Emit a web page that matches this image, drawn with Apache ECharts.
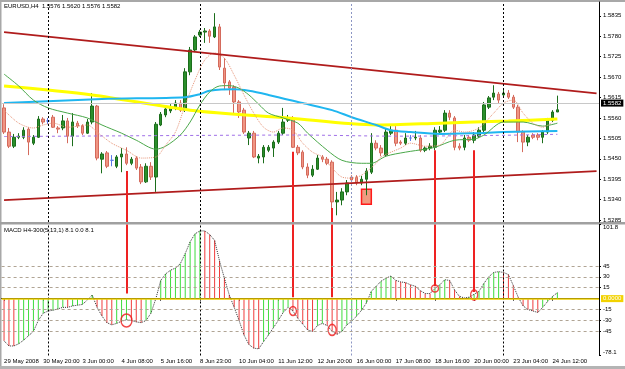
<!DOCTYPE html>
<html>
<head>
<meta charset="utf-8">
<title>EURUSD H4</title>
<script src="https://cdn.jsdelivr.net/npm/echarts@6/dist/echarts.min.js"></script>
<style>
    html, body { margin: 0; padding: 0; background: #fff; }
    #main { width: 625px; height: 369px; }
</style>
</head>
<body>
<div id="main"></div>
<script>
    // bottom time labels, one every 8 bars
    const timeLabels = ['29 May 2008', '30 May 20:00', '3 Jun 00:00', '4 Jun 08:00', '5 Jun 16:00',
        '8 Jun 23:00', '10 Jun 04:00', '11 Jun 12:00', '12 Jun 20:00', '16 Jun 00:00',
        '17 Jun 08:00', '18 Jun 16:00', '20 Jun 00:00', '23 Jun 04:00', '24 Jun 12:00'];
    const slotCount = 122; // includes the empty shift on the right

    const open = [1.5587,1.5522,1.5484,1.5508,1.5508,1.5530,1.5492,1.5508,1.5557,1.5552,
        1.5562,1.5533,1.5533,1.5552,1.5511,1.5546,1.5538,1.5519,1.5549,1.5592,
        1.5449,1.5466,1.5446,1.5430,1.5455,1.5463,1.5438,1.5452,1.5428,1.5388,
        1.5430,1.5401,1.5541,1.5568,1.5579,1.5587,1.5600,1.5581,1.5684,1.5743,
        1.5783,1.5791,1.5794,1.5778,1.5805,1.5694,1.5657,1.5643,1.5603,1.5581,
        1.5506,1.5519,1.5452,1.5455,1.5473,1.5479,1.5495,1.5519,1.5554,1.5557,
        1.5481,1.5468,1.5428,1.5406,1.5422,1.5455,1.5449,1.5441,1.5334,1.5339,
        1.5361,1.5401,1.5401,1.5385,1.5395,1.5414,1.5492,1.5479,1.5460,1.5519,
        1.5527,1.5495,1.5492,1.5506,1.5506,1.5506,1.5473,1.5479,1.5481,1.5522,
        1.5527,1.5573,1.5560,1.5484,1.5481,1.5508,1.5500,1.5511,1.5527,1.5589,
        1.5616,1.5624,1.5622,1.5627,1.5616,1.5589,1.5522,1.5495,1.5514,1.5514,
        1.5508,1.5522,1.5554,1.5576];
    const close = [1.5522,1.5484,1.5508,1.5511,1.5527,1.5495,1.5508,1.5557,1.5549,1.5552,
        1.5535,1.5530,1.5552,1.5511,1.5549,1.5538,1.5519,1.5549,1.5592,1.5452,
        1.5463,1.5430,1.5446,1.5455,1.5463,1.5438,1.5449,1.5425,1.5388,1.5430,
        1.5401,1.5543,1.5570,1.5584,1.5587,1.5600,1.5581,1.5684,1.5743,1.5778,
        1.5791,1.5794,1.5780,1.5805,1.5697,1.5654,1.5640,1.5603,1.5576,1.5522,
        1.5519,1.5455,1.5457,1.5481,1.5481,1.5495,1.5519,1.5549,1.5560,1.5481,
        1.5466,1.5428,1.5406,1.5422,1.5452,1.5449,1.5438,1.5334,1.5339,1.5361,
        1.5385,1.5393,1.5385,1.5395,1.5417,1.5492,1.5479,1.5466,1.5522,1.5527,
        1.5492,1.5492,1.5506,1.5506,1.5508,1.5473,1.5479,1.5484,1.5527,1.5527,
        1.5573,1.5562,1.5481,1.5479,1.5506,1.5500,1.5514,1.5527,1.5595,1.5614,
        1.5627,1.5608,1.5627,1.5616,1.5589,1.5522,1.5495,1.5508,1.5508,1.5508,
        1.5522,1.5554,1.5576,1.5582];
    const high = [1.5597,1.5533,1.5517,1.5519,1.5535,1.5535,1.5514,1.5565,1.5562,1.5560,
        1.5568,1.5538,1.5568,1.5560,1.5573,1.5552,1.5543,1.5557,1.5627,1.5595,
        1.5468,1.5471,1.5460,1.5460,1.5479,1.5481,1.5455,1.5457,1.5436,1.5438,
        1.5441,1.5549,1.5576,1.5589,1.5597,1.5608,1.5608,1.5694,1.5751,1.5783,
        1.5797,1.5802,1.5799,1.5842,1.5813,1.5721,1.5662,1.5648,1.5608,1.5587,
        1.5525,1.5525,1.5463,1.5487,1.5487,1.5500,1.5525,1.5587,1.5568,1.5565,
        1.5487,1.5473,1.5438,1.5433,1.5460,1.5460,1.5455,1.5446,1.5361,1.5371,
        1.5393,1.5406,1.5406,1.5404,1.5425,1.5519,1.5500,1.5487,1.5533,1.5543,
        1.5538,1.5500,1.5519,1.5514,1.5525,1.5514,1.5484,1.5492,1.5535,1.5538,
        1.5581,1.5581,1.5565,1.5492,1.5514,1.5514,1.5522,1.5535,1.5603,1.5619,
        1.5648,1.5630,1.5635,1.5635,1.5622,1.5595,1.5527,1.5514,1.5519,1.5519,
        1.5527,1.5560,1.5581,1.5620];
    const low = [1.5517,1.5479,1.5479,1.5503,1.5503,1.5460,1.5487,1.5506,1.5543,1.5543,
        1.5533,1.5519,1.5527,1.5492,1.5484,1.5533,1.5514,1.5517,1.5543,1.5446,
        1.5411,1.5425,1.5430,1.5425,1.5414,1.5433,1.5433,1.5420,1.5382,1.5385,
        1.5393,1.5361,1.5538,1.5562,1.5573,1.5581,1.5576,1.5576,1.5675,1.5737,
        1.5778,1.5762,1.5762,1.5775,1.5689,1.5635,1.5622,1.5568,1.5560,1.5517,
        1.5487,1.5452,1.5438,1.5438,1.5468,1.5455,1.5490,1.5514,1.5549,1.5479,
        1.5460,1.5422,1.5398,1.5401,1.5420,1.5441,1.5433,1.5312,1.5298,1.5325,
        1.5352,1.5388,1.5379,1.5379,1.5352,1.5409,1.5473,1.5457,1.5455,1.5514,
        1.5484,1.5487,1.5487,1.5498,1.5500,1.5468,1.5468,1.5473,1.5473,1.5519,
        1.5522,1.5554,1.5473,1.5473,1.5473,1.5495,1.5492,1.5506,1.5522,1.5584,
        1.5608,1.5600,1.5616,1.5611,1.5584,1.5495,1.5468,1.5484,1.5503,1.5500,
        1.5492,1.5517,1.5549,1.5576];

    // moving averages, read at [bar index, price]
    const maYellow = [[0,1.5646],[18,1.5622],[38,1.5581],[58,1.5560],[76,1.5541],[89,1.5546],[103,1.5552],[113,1.5557]];
    const maCyan = [[0,1.5600],[20,1.5611],[37,1.5616],[40,1.5624],[42,1.5633],[47,1.5637],[50,1.5633],[54,1.5622],
        [61,1.5600],[67,1.5581],[71,1.5562],[76,1.5541],[79,1.5527],[83,1.5522],[89,1.5517],[96,1.5519],[102,1.5522],[113,1.5525]];
    const maGreen = [[0,1.5678],[3,1.5646],[6,1.5608],[9,1.5587],[13,1.5573],[17,1.5560],[20,1.5541],[24,1.5519],[27,1.5500],
        [31,1.5476],[33,1.5484],[36,1.5514],[38,1.5549],[40,1.5595],[42,1.5630],[44,1.5646],[46,1.5647],[48,1.5640],
        [50,1.5622],[52,1.5597],[54,1.5573],[57,1.5560],[60,1.5546],[62,1.5519],[66,1.5473],[69,1.5446],[73,1.5438],
        [75,1.5438],[78,1.5457],[82,1.5468],[86,1.5476],[88,1.5481],[92,1.5500],[96,1.5503],[98,1.5514],[102,1.5549],
        [106,1.5549],[110,1.5538],[113,1.5546]];
    const maSalmon = [[0,1.5581],[3,1.5546],[6,1.5533],[8,1.5541],[10,1.5546],[13,1.5535],[17,1.5541],[19,1.5522],
        [22,1.5492],[25,1.5473],[28,1.5452],[31,1.5455],[33,1.5487],[35,1.5522],[37,1.5595],[39,1.5662],[41,1.5716],
        [43,1.5735],[45,1.5721],[47,1.5675],[49,1.5622],[51,1.5573],[53,1.5535],[55,1.5522],[57,1.5533],[59,1.5527],
        [61,1.5492],[63,1.5468],[65,1.5455],[67,1.5425],[69,1.5401],[71,1.5398],[73,1.5406],[76,1.5438],[77,1.5455],
        [81,1.5479],[83,1.5492],[86,1.5484],[89,1.5487],[92,1.5527],[94,1.5522],[97,1.5533],[100,1.5573],[102,1.5600],
        [104,1.5608],[106,1.5573],[108,1.5546],[110,1.5535],[112,1.5549]];
    const maPurple = [[0,1.5510],[40,1.5513],[60,1.5514],[80,1.5511],[100,1.5513],[113,1.5516]];
    const trendUpper = [[0,1.5791],[121,1.5626]];
    const trendLower = [[0,1.5339],[121,1.5417]];

    const priceTicks = [1.5835,1.5780,1.5725,1.5670,1.5615,1.5560,1.5505,1.5450,1.5395,1.5340,1.5285];

    const macd = [-58,-65,-65,-62,-57,-51,-45,-30,-20,-17,
        -16,-14,-12,-12,-10,-9,-8,-2,5,-12,
        -24,-33,-36,-34,-31,-29,-30,-32,-33,-30,
        -20,0,25,34,39,42,48,62,78,89,
        93,93,88,80,52,28,5,-12,-30,-50,
        -63,-68,-69,-59,-50,-40,-30,-19,-12,-17,
        -27,-35,-43,-45,-37,-34,-37,-45,-49,-45,
        -36,-31,-24,-16,-6,10,17,24,28,31,
        25,23,22,19,17,11,7,7,14,19,
        26,25,12,3,1,2,6,10,21,30,
        36,37,36,33,18,2,-10,-15,-17,-19,
        -12,-4,3,8.1];
    const macdLevels = [45, 30, 15, -15, -30, -45];
    const macdTicks = [101.8, 45, 30, 15, -15, -30, -45, -78.1];

    // divergence marks: bar, price where the line starts, MACD value where it stops
    const divBars = [25, 59, 67, 88, 96];
    const divPriceTop = [1.5417, 1.5469, 1.5318, 1.5473, 1.5473];
    const divMacdEnd = [7, 2, 2, 17, 9];
    const circleValues = [-30, -17, -43, 14, 5];
    const circleSizes = [[11, 13], [7, 9], [8, 11], [7, 7], [7, 10]];

    const separators = [9, 40, 71, 102];
    const boxBars = [73, 75];
    const boxPrices = [1.5368, 1.5328];

    const FONT = 'Liberation Sans';
    const last = close.length - 1;

    const categories = [];
    for (let i = 0; i < slotCount; i++) categories.push(String(i));
    const labelInterval = function (idx) { return idx % 8 === 0 && idx / 8 < timeLabels.length; };

    const candleData = open.map(function (o, i) {
        const item = { value: [o, close[i], low[i], high[i]] };
        if (o === close[i]) item.itemStyle = { color: '#5a78e6', borderColor: '#5a78e6', borderColor0: '#5a78e6' };
        return item;
    });

    function sepLines() {
        return separators.map(function (s, k) {
            return {
                xAxis: s,
                lineStyle: k === 2 ? { color: '#8c96c4', type: [2, 2], width: 1 } : { color: '#000', type: [2, 2], width: 1 }
            };
        });
    }
    const redLine = { color: '#ee2222', width: 2, type: 'solid' };

    const priceMarks = sepLines();
    const macdMarks = sepLines();
    divBars.forEach(function (b, k) {
        priceMarks.push([{ coord: [b, divPriceTop[k]], lineStyle: redLine }, { coord: [b, 1.5280] }]);
        macdMarks.push([{ coord: [b, 101.8], lineStyle: redLine }, { coord: [b, divMacdEnd[k]] }]);
    });
    priceMarks.push({
        yAxis: close[last],
        lineStyle: { color: '#c8c8c8', type: 'solid', width: 1 },
        label: { show: true, position: 'end', distance: 2, formatter: close[last].toFixed(4),
            backgroundColor: '#000', color: '#fff', padding: [1, 2, 0, 2], fontSize: 6, fontFamily: FONT }
    });
    macdLevels.forEach(function (v) {
        macdMarks.push({ yAxis: v, lineStyle: { color: '#b0a494', type: [3, 3], width: 1 } });
    });
    macdMarks.push({
        yAxis: 0,
        lineStyle: { color: '#f2d200', type: 'solid', width: 1.5 },
        label: { show: true, position: 'end', distance: 2, formatter: '0.0000',
            backgroundColor: '#f2d200', color: '#fff', padding: [1, 2, 0, 2], fontSize: 6, fontFamily: FONT }
    });

    function maLine(name, data, color, width, type) {
        return {
            name: name, type: 'line', xAxisIndex: 0, yAxisIndex: 0, data: data,
            symbol: 'none', smooth: 0.3, silent: true, z: 3,
            lineStyle: { color: color, width: width, type: type || 'solid' }
        };
    }

    const option = {
        animation: false,
        backgroundColor: '#fff',
        title: [{
            text: 'EURUSD,H4  ' + [open[last], high[last], low[last], close[last]].map(function (v) { return v.toFixed(4); }).join(' '),
            left: 4, top: 3, padding: 0,
            textStyle: { fontSize: 6, fontWeight: 'normal', color: '#000', fontFamily: FONT }
        }, {
            text: 'MACD H4-300(5,13,1) 8.1 0.0 8.1',
            left: 4, top: 227, padding: 0,
            textStyle: { fontSize: 6, fontWeight: 'normal', color: '#000', fontFamily: FONT }
        }],
        grid: [
            { left: 1.6, right: 26, top: 2, height: 220 },
            { left: 1.6, right: 26, top: 224.5, height: 131 }
        ],
        xAxis: [{
            type: 'category', gridIndex: 0, data: categories, boundaryGap: true, show: false
        }, {
            type: 'category', gridIndex: 1, data: categories, boundaryGap: true,
            axisLine: { lineStyle: { color: '#000', width: 1 } },
            axisTick: { show: true, alignWithLabel: true, interval: labelInterval, length: 2, lineStyle: { color: '#000' } },
            axisLabel: {
                interval: labelInterval, align: 'left', margin: 3,
                fontSize: 6, color: '#000', fontFamily: FONT,
                formatter: function (v, idx) { return timeLabels[idx / 8] || ''; }
            },
            splitLine: { show: false }
        }],
        yAxis: [{
            type: 'value', gridIndex: 0, position: 'right', min: 1.5280, max: 1.5872,
            splitLine: { show: false },
            axisLine: { show: true, lineStyle: { color: '#000' } },
            axisTick: { show: true, customValues: priceTicks, length: 2, lineStyle: { color: '#000' } },
            axisLabel: {
                customValues: priceTicks, margin: 4, fontSize: 6, color: '#000', fontFamily: FONT,
                formatter: function (v) { return v.toFixed(4); }
            }
        }, {
            type: 'value', gridIndex: 1, position: 'right', min: -78.1, max: 101.8,
            splitLine: { show: false },
            axisLine: { show: true, lineStyle: { color: '#000' } },
            axisTick: { show: true, customValues: macdTicks, length: 2, lineStyle: { color: '#000' } },
            axisLabel: {
                customValues: macdTicks, margin: 4, fontSize: 6, color: '#000', fontFamily: FONT,
                formatter: function (v) {
                    if (v === 101.8) return '{t|101.8}';
                    if (v === -78.1) return '{b|-78.1}';
                    return String(v);
                },
                rich: {
                    t: { fontSize: 6, fontFamily: FONT, color: '#000', padding: [6, 0, 0, 0] },
                    b: { fontSize: 6, fontFamily: FONT, color: '#000', padding: [0, 0, 7, 0] }
                }
            }
        }],
        series: [{
            name: 'EURUSD', type: 'candlestick', xAxisIndex: 0, yAxisIndex: 0,
            data: candleData, barWidth: 3, z: 2,
            itemStyle: { color: '#2b8f2b', color0: '#f09583', borderColor: '#1c6e1c', borderColor0: '#d46a5c', borderWidth: 1 },
            markLine: { silent: true, symbol: ['none', 'none'], label: { show: false }, animation: false, data: priceMarks },
            markArea: {
                silent: true,
                itemStyle: { color: '#f09a80', borderColor: '#ff1a1a', borderWidth: 1.5 },
                data: [[{ coord: [boxBars[0], boxPrices[0]] }, { coord: [boxBars[1], boxPrices[1]] }]]
            }
        },
            maLine('MA yellow', maYellow, '#ffff00', 3),
            maLine('MA cyan', maCyan, '#1fb6f0', 2),
            maLine('MA green', maGreen, '#4aa84a', 1),
            maLine('MA salmon', maSalmon, '#e8967a', 1, 'dotted'),
            maLine('MA purple', maPurple, '#a070e8', 1, [3, 3]),
            maLine('trend upper', trendUpper, '#b01c1c', 1.8),
            maLine('trend lower', trendLower, '#b01c1c', 1.8),
        {
            name: 'MACD', type: 'bar', xAxisIndex: 1, yAxisIndex: 1, data: macd, barWidth: 1,
            itemStyle: {
                color: function (p) {
                    const i = p.dataIndex;
                    return (i > 0 && macd[i] > macd[i - 1]) ? '#3ddc3d' : '#f03c3c';
                }
            },
            markLine: { silent: true, symbol: ['none', 'none'], label: { show: false }, animation: false, data: macdMarks }
        }, {
            name: 'MACD line', type: 'line', xAxisIndex: 1, yAxisIndex: 1, data: macd,
            symbol: 'none', silent: true, z: 3,
            lineStyle: { color: '#333', width: 1, type: 'dotted' }
        }, {
            name: 'marks', type: 'scatter', xAxisIndex: 1, yAxisIndex: 1, z: 4, silent: true,
            data: divBars.map(function (b, k) { return [b, circleValues[k]]; }),
            symbol: 'path://M1,0A1,1,0,1,1,-1,0A1,1,0,1,1,1,0Z',
            symbolSize: function (v, p) { return circleSizes[p.dataIndex]; },
            itemStyle: { color: 'rgba(0,0,0,0)', borderColor: '#ee1a1a', borderWidth: 1.5 }
        }],
        graphic: [
            { type: 'rect', shape: { x: 0, y: 0, width: 625, height: 2 }, style: { fill: '#a8a8a8' } },
            { type: 'rect', shape: { x: 0, y: 0, width: 1.5, height: 369 }, style: { fill: '#a8a8a8' } },
            { type: 'rect', shape: { x: 0, y: 222, width: 625, height: 2.5 }, style: { fill: '#a0a0a0' } },
            { type: 'rect', shape: { x: 0, y: 366, width: 625, height: 3 }, style: { fill: '#b4b4b4' } }
        ]
    };

    const myChart = echarts.init(document.getElementById('main'));
    myChart.setOption(option);
</script>
</body>
</html>
